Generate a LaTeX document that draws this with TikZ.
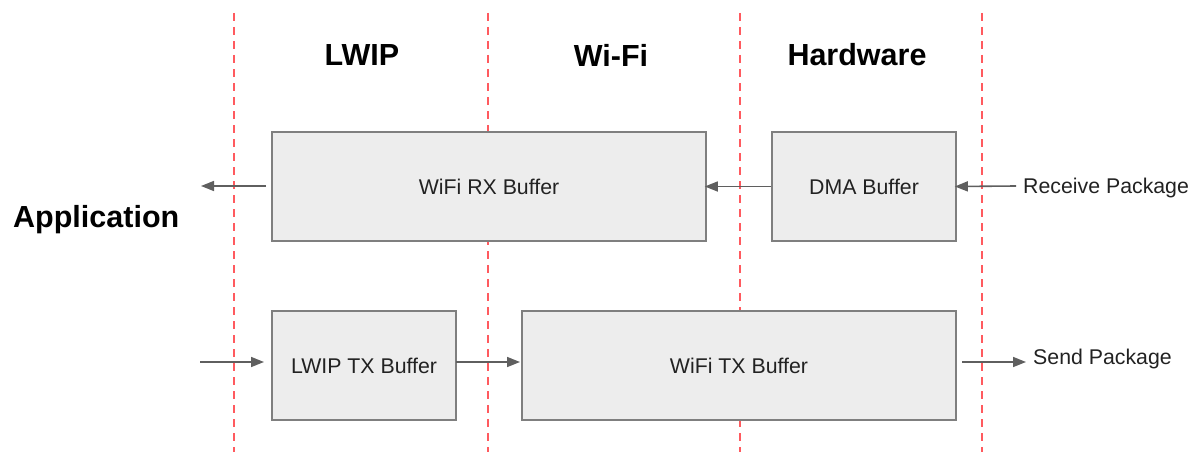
\documentclass[tikz,border=0pt]{standalone}
\usepackage{fontspec}
\setmainfont{Liberation Sans}
\usetikzlibrary{arrows.meta}
\definecolor{sep}{HTML}{FF5A5F}
\definecolor{boxfill}{HTML}{EDEDED}
\definecolor{boxline}{HTML}{7F7F7F}
\definecolor{arr}{HTML}{5F5F5F}
\definecolor{txt}{HTML}{222222}
\begin{document}
\begin{tikzpicture}[x=1pt,y=-1pt,
  buf/.style={draw=boxline,line width=1.6pt,fill=boxfill,minimum height=109pt,inner sep=0pt,text=txt,font=\fontsize{21.3}{24}\selectfont},
  sepline/.style={draw=sep,line width=1.6pt,dash pattern=on 8pt off 6pt},
  flow/.style={draw=arr,line width=1.6pt,-{Triangle[length=13pt,width=10pt]}},
  head/.style={font=\bfseries\fontsize{30.5}{34}\selectfont,text=black},
  lab/.style={font=\fontsize{21.3}{24}\selectfont,text=txt,inner sep=0pt}]
\useasboundingbox (0,0) rectangle (1193,452);
\foreach \x/\n in {234/s1,488/s2,740/s3,982/s4}{
  \coordinate (\n t) at (\x,13);
  \coordinate (\n b) at (\x,452);
  \draw[sepline] (\n t) -- (\n b);
}
\node[head] (hlwip) at (362,55) {LWIP};
\node[head] (hwifi) at (611,55) {Wi-Fi};
\node[head] (hhw) at (857,55) {Hardware};
\node[head,anchor=west,inner sep=0pt] (happ) at (13,220) {Application};

\node[buf,minimum width=434pt] (rx) at (489,186.5) {WiFi RX Buffer};
\node[buf,minimum width=184pt] (dma) at (864,186.5) {DMA Buffer};
\node[buf,minimum width=184pt] (ltx) at (364,365.5) {LWIP TX Buffer};
\node[buf,minimum width=434pt] (wtx) at (739,365.5) {WiFi TX Buffer};

\node[lab,anchor=west] (recv) at (1023,188) {Receive Package};
\node[lab,anchor=west] (send) at (1033,359) {Send Package};

\coordinate (appout) at (201,186);
\coordinate (appin) at (200,362);
\coordinate (rxout) at (266,186);
\coordinate (ltxin) at (264,362);
\coordinate (ltxout) at (456,362);
\coordinate (wtxin) at (520,362);
\coordinate (wtxout) at (962,362);
\coordinate (sendin) at (1026,362);
\coordinate (recvout) at (1016,186);

\draw[flow] (rxout) -- (appout);
\draw[flow] (dma.west) -- ([xshift=-2pt]rx.east);
\draw[flow] (recvout) -- ([xshift=-2pt]dma.east);
\draw[flow] (appin) -- (ltxin);
\draw[flow] (ltxout) -- (wtxin);
\draw[flow] (wtxout) -- (sendin);
\end{tikzpicture}
\end{document}
